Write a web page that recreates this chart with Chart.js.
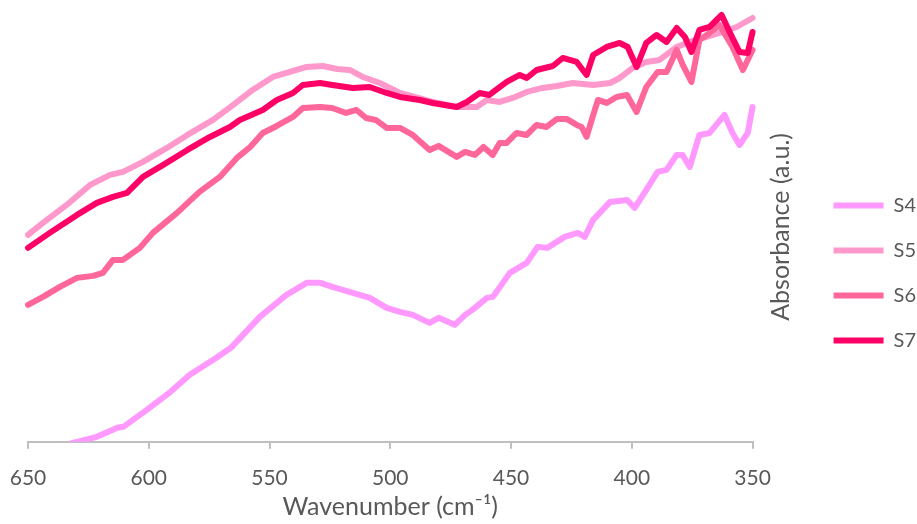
<!DOCTYPE html>
<html lang="en">
<head>
    <meta charset="UTF-8">
    <title>Absorbance S4-S7</title>
    <script src="https://cdn.jsdelivr.net/npm/chart.js"></script>
    <style>
        body {
            margin: 0;
            background-color: #fff;
        }
        .chart-box {
            width: 917px;
            height: 524px;
        }
    </style>
</head>
<body>
    <div class="chart-box">
        <canvas id="spectraChart"></canvas>
    </div>

    <script>
        // Dados (número de onda em cm-1, absorbância em u.a.)
        var s4Wn = [650, 631.4, 621.5, 613, 610.5, 600.8, 591, 583, 572, 566, 554, 543, 534.6, 529, 524, 515.5, 508.5, 501.5, 496, 490.7, 483.7, 480, 473.3, 469, 466, 460, 457.5, 450.5, 443.5, 439, 435, 427.8, 422.4, 419.5, 416, 409, 402, 398.8, 394, 389.3, 385.6, 381.4, 379, 376, 372, 367.8, 361.6, 358.3, 355.4, 352, 350];
        var s4Abs = [-0.16, -0.01, 0.05, 0.14, 0.15, 0.32, 0.50, 0.67, 0.84, 0.94, 1.25, 1.47, 1.59, 1.59, 1.55, 1.49, 1.44, 1.34, 1.30, 1.27, 1.19, 1.24, 1.17, 1.27, 1.32, 1.44, 1.45, 1.69, 1.79, 1.95, 1.94, 2.05, 2.09, 2.05, 2.22, 2.40, 2.42, 2.34, 2.52, 2.70, 2.72, 2.87, 2.87, 2.75, 3.07, 3.09, 3.27, 3.09, 2.97, 3.09, 3.35];

        var s5Wn = [650, 643.8, 634, 624.3, 616, 610.7, 602.4, 592.5, 584, 573.4, 565, 557, 548.6, 541.6, 534.6, 528, 522, 516.8, 511.4, 504.3, 496, 482.4, 472.5, 464.2, 460, 454.7, 449.3, 443.5, 436.9, 431, 424.5, 416, 409, 405, 399.6, 394, 388.5, 381.4, 376, 369, 362.4, 356.6, 350];
        var s5Abs = [2.07, 2.19, 2.37, 2.57, 2.67, 2.70, 2.80, 2.94, 3.07, 3.22, 3.37, 3.52, 3.65, 3.70, 3.75, 3.76, 3.73, 3.72, 3.65, 3.59, 3.49, 3.40, 3.35, 3.35, 3.42, 3.40, 3.44, 3.50, 3.54, 3.56, 3.59, 3.57, 3.59, 3.64, 3.74, 3.80, 3.82, 3.95, 4.00, 4.05, 4.10, 4.15, 4.24];

        var s6Wn = [650, 643.8, 636.8, 629.7, 623, 619, 614.8, 610.7, 603.7, 598.3, 588.3, 579, 570.6, 563.5, 558, 552.8, 547, 540.3, 536.2, 529, 524, 518.3, 514, 510, 506, 501.5, 496, 490.7, 483.7, 480, 472.5, 469, 465, 461.4, 457.6, 454.7, 451.8, 447.7, 443.5, 439.4, 435.3, 431, 427, 422.8, 420.8, 418.7, 416.6, 414, 410.4, 406.3, 402, 398, 394, 389.3, 385.6, 381.4, 378.9, 375.3, 372, 367.8, 363.7, 358.3, 354, 350];
        var s6Abs = [1.37, 1.45, 1.55, 1.64, 1.66, 1.69, 1.82, 1.82, 1.94, 2.09, 2.29, 2.50, 2.65, 2.84, 2.95, 3.09, 3.16, 3.25, 3.34, 3.35, 3.34, 3.29, 3.32, 3.24, 3.22, 3.14, 3.14, 3.07, 2.92, 2.96, 2.85, 2.90, 2.87, 2.95, 2.87, 2.99, 2.99, 3.09, 3.07, 3.17, 3.15, 3.23, 3.23, 3.17, 3.15, 3.05, 3.22, 3.42, 3.39, 3.45, 3.47, 3.30, 3.55, 3.70, 3.70, 3.92, 3.77, 3.60, 4.02, 4.09, 4.17, 3.95, 3.72, 3.92];

        var s7Wn = [650, 641, 629.7, 621.5, 614.8, 609, 602.4, 594, 584, 574.7, 566.4, 562.3, 552.8, 547, 540.3, 536.2, 529, 524, 515.5, 508.5, 501.5, 496, 487.8, 482.4, 472.5, 468.3, 463, 459, 451.8, 446.4, 443.5, 439.4, 432.7, 428.6, 422.8, 418.7, 416, 410.4, 405, 401.7, 398, 394, 389.7, 385.6, 381.4, 378, 375.3, 372, 367.8, 362.8, 359.5, 355.4, 352, 350];
        var s7Abs = [1.94, 2.09, 2.27, 2.39, 2.45, 2.49, 2.65, 2.77, 2.92, 3.05, 3.15, 3.22, 3.32, 3.42, 3.49, 3.57, 3.59, 3.57, 3.54, 3.55, 3.49, 3.45, 3.42, 3.39, 3.35, 3.40, 3.49, 3.47, 3.60, 3.67, 3.64, 3.72, 3.76, 3.84, 3.80, 3.67, 3.87, 3.95, 3.99, 3.95, 3.75, 3.99, 4.07, 4.00, 4.14, 4.05, 3.90, 4.12, 4.15, 4.27, 4.10, 3.90, 3.89, 4.10];

        var seriesNames = ['S4', 'S5', 'S6', 'S7'];
        var seriesColors = ['#FF99FF', '#FF99CC', '#FF6699', '#FF0066'];
        var xTicks = [650, 600, 550, 500, 450, 400, 350];

        function toPoints(wn, abs) {
            return wn.map(function(w, i) { return { x: w, y: abs[i] }; });
        }

        var allWn = [s4Wn, s5Wn, s6Wn, s7Wn];
        var allAbs = [s4Abs, s5Abs, s6Abs, s7Abs];

        var datasets = seriesNames.map(function(name, i) {
            return {
                label: name,
                data: toPoints(allWn[i], allAbs[i]),
                borderColor: seriesColors[i],
                backgroundColor: seriesColors[i],
                borderWidth: 6,
                borderCapStyle: 'round',
                borderJoinStyle: 'round',
                pointRadius: 0,
                pointStyle: 'line',
                tension: 0,
                fill: false,
                order: 3 - i,
                clip: { left: 4, top: 4, right: 4, bottom: 0 }
            };
        });

        // título do eixo Y (lido de baixo para cima, como no original)
        var yTitlePlugin = {
            id: 'yTitle',
            afterDraw: function(chart) {
                var ctx = chart.ctx;
                var area = chart.chartArea;
                ctx.save();
                ctx.translate(781, (area.top + area.bottom) / 2);
                ctx.rotate(-Math.PI / 2);
                ctx.font = '25px Lato';
                ctx.fillStyle = '#595959';
                ctx.textAlign = 'center';
                ctx.textBaseline = 'middle';
                ctx.fillText('Absorbance (a.u.)', 0, 0);
                ctx.restore();
            }
        };

        var ctx = document.getElementById('spectraChart').getContext('2d');
        var spectraChart = new Chart(ctx, {
            type: 'line',
            data: { datasets: datasets },
            options: {
                responsive: true,
                maintainAspectRatio: false,
                animation: false,
                layout: {
                    padding: { left: 28, top: 12, right: -9, bottom: -10 }
                },
                scales: {
                    x: {
                        type: 'linear',
                        reverse: true,
                        min: 350,
                        max: 650,
                        afterBuildTicks: function(scale) {
                            scale.ticks = xTicks.map(function(v) { return { value: v }; });
                        },
                        afterFit: function(scale) {
                            // o rótulo "650" pode sair um pouco à esquerda
                            scale.paddingLeft = 18;
                        },
                        ticks: {
                            color: '#595959',
                            font: { family: 'Lato', size: 21 },
                            padding: 17,
                            maxRotation: 0
                        },
                        grid: {
                            drawOnChartArea: false,
                            drawTicks: true,
                            tickLength: 7,
                            color: '#BFBFBF',
                            lineWidth: 2
                        },
                        border: { color: '#BFBFBF', width: 2 },
                        title: {
                            display: true,
                            text: 'Wavenumber (cm\u207B\u00B9)',
                            color: '#595959',
                            font: { family: 'Lato', size: 25 },
                            padding: { top: -16, bottom: 12 }
                        }
                    },
                    y: {
                        position: 'right',
                        min: 0,
                        max: 4.3,
                        ticks: { display: false },
                        grid: { display: false },
                        border: { display: false },
                        afterFit: function(scale) {
                            scale.width = 56;
                        }
                    }
                },
                plugins: {
                    legend: {
                        position: 'right',
                        labels: {
                            usePointStyle: true,
                            pointStyleWidth: 50,
                            padding: 25,
                            color: '#595959',
                            font: { family: 'Lato', size: 20 },
                            sort: function(a, b) { return a.datasetIndex - b.datasetIndex; }
                        }
                    },
                    tooltip: { enabled: false }
                }
            },
            plugins: [yTitlePlugin]
        });
    </script>
</body>
</html>
